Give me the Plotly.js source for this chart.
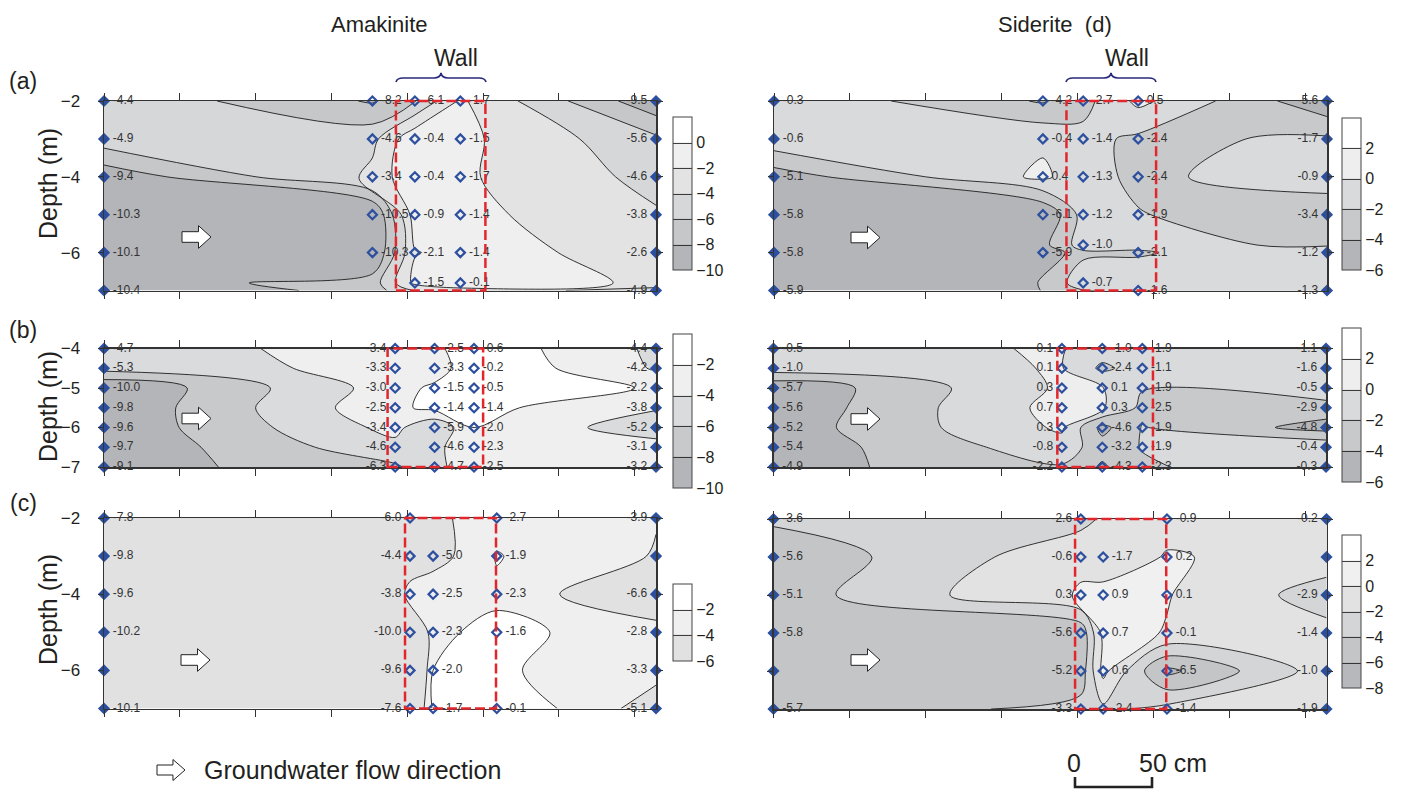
<!DOCTYPE html>
<html><head><meta charset="utf-8">
<script src="https://cdn.plot.ly/plotly-3.0.1.min.js"></script>
<style>html,body{margin:0;padding:0;background:#fff}</style>
</head><body><div id="chart" style="width:1401px;height:789px"></div>
<script>
// ================= DATA (distance along transect in cm, depth in m, value) =================
// Amakinite (a)
const amA_x = [0,0,0,0,0,0, 177,177,177,177,177, 205,205,205,205,205,205, 235,235,235,235,235,235, 364,364,364,364,364,364];
const amA_y = [-2,-3,-4,-5,-6,-7, -2,-3,-4,-5,-6, -2,-3,-4,-5,-6,-6.8, -2,-3,-4,-5,-6,-6.8, -2,-3,-4,-5,-6,-7];
const amA_z = [-4.4,-4.9,-9.4,-10.3,-10.1,-10.4, -8.2,-4.6,-3.4,-10.5,-10.3, -6.1,-0.4,-0.4,-0.9,-2.1,-1.5, -1.7,-1.5,-1.7,-1.4,-1.4,-0.1, -9.5,-5.6,-4.6,-3.8,-2.6,-4.9];
// Siderite (a)
const sdA_x = [0,0,0,0,0,0, 177,177,177,177,177, 203.5,203.5,203.5,203.5,203.5,203.5, 239.7,239.7,239.7,239.7,239.7,239.7, 364,364,364,364,364,364];
const sdA_y = [-2,-3,-4,-5,-6,-7, -2,-3,-4,-5,-6, -2,-3,-4,-5,-5.8,-6.8, -2,-3,-4,-5,-6,-7, -2,-3,-4,-5,-6,-7];
const sdA_z = [-0.3,-0.6,-5.1,-5.8,-5.8,-5.9, -4.2,-0.4,0.4,-6.1,-5.9, -2.7,-1.4,-1.3,-1.2,-1.0,-0.7, 0.5,-2.4,-2.4,-1.9,-2.1,-1.6, -5.6,-1.7,-0.9,-3.4,-1.2,-1.3];
// Amakinite (b)
const amB_x = [0,0,0,0,0,0,0, 192,192,192,192,192,192,192, 218,218,218,218,218,218,218, 244,244,244,244,244,244,244, 364,364,364,364,364,364,364];
const amB_y = [-4,-4.5,-5,-5.5,-6,-6.5,-7, -4,-4.5,-5,-5.5,-6,-6.5,-7, -4,-4.5,-5,-5.5,-6,-6.5,-7, -4,-4.5,-5,-5.5,-6,-6.5,-7, -4,-4.5,-5,-5.5,-6,-6.5,-7];
const amB_z = [-4.7,-5.3,-10.0,-9.8,-9.6,-9.7,-9.1, -3.4,-3.3,-3.0,-2.5,-3.4,-4.6,-6.3, -2.5,-3.3,-1.5,-1.4,-5.9,-4.6,-4.7, -0.6,-0.2,-0.5,-1.4,-2.0,-2.3,-2.5, -4.4,-4.2,-2.2,-3.8,-5.2,-3.1,-3.2];
// Siderite (b)
const sdB_x = [0,0,0,0,0,0,0, 190,190,190,190,190,190,190, 216.6,216.6,216.6,216.6,216.6,216.6,216.6, 243,243,243,243,243,243,243, 364,364,364,364,364,364,364];
const sdB_y = [-4,-4.5,-5,-5.5,-6,-6.5,-7, -4,-4.5,-5,-5.5,-6,-6.5,-7, -4,-4.5,-5,-5.5,-6,-6.5,-7, -4,-4.5,-5,-5.5,-6,-6.5,-7, -4,-4.5,-5,-5.5,-6,-6.5,-7];
const sdB_z = [-0.5,-1.0,-5.7,-5.6,-5.2,-5.4,-4.9, 0.1,0.1,0.3,0.7,0.3,-0.8,-2.2, -1.0,-2.4,0.1,0.3,-4.6,-3.2,-4.3, -1.9,-1.1,-1.9,-2.5,-1.9,-1.9,-2.3, -1.1,-1.6,-0.5,-2.9,-4.8,-0.4,-0.3];
// Amakinite (c)   (null = sampling point without a printed value)
const amC_x = [0,0,0,0,0,0, 201.8,201.8,201.8,201.8,201.8,201.8, 217,217,217,217,217, 259,259,259,259,259, 364,364,364,364,364,364];
const amC_y = [-2,-3,-4,-5,-6,-7, -2,-3,-4,-5,-6,-7, -3,-4,-5,-6,-7, -2,-3,-4,-5,-7, -2,-3,-4,-5,-6,-7];
const amC_z = [-7.8,-9.8,-9.6,-10.2,null,-10.1, -6.0,-4.4,-3.8,-10.0,-9.6,-7.6, -5.0,-2.5,-2.3,-2.0,-1.7, -2.7,-1.9,-2.3,-1.6,-0.1, -3.9,null,-6.6,-2.8,-3.3,-5.1];
// Siderite (c)
const sdC_x = [0,0,0,0,0,0, 202.3,202.3,202.3,202.3,202.3,202.3, 217,217,217,217,217, 259,259,259,259,259,259, 364,364,364,364,364,364];
const sdC_y = [-2,-3,-4,-5,-6,-7, -2,-3,-4,-5,-6,-7, -3,-4,-5,-6,-7, -2,-3,-4,-5,-6,-7, -2,-3,-4,-5,-6,-7];
const sdC_z = [-3.6,-5.6,-5.1,-5.8,null,-5.7, -2.6,-0.6,0.3,-5.6,-5.2,-3.3, -1.7,0.9,0.7,0.6,-2.4, -0.9,0.2,0.1,-0.1,-6.5,-1.4, -0.2,null,-2.9,-1.4,-1.0,-1.9];

// wall extent (cm)
const wallA = [192.5, 251.5];
const wallB = [187, 250];
const wallC = [198.5, 258.5];

// colour-bar tick labels
const ticksAmA = [-10,-8,-6,-4,-2,0];
const ticksSd  = [-6,-4,-2,0,2];
const ticksAmB = [-10,-8,-6,-4,-2];
const ticksAmC = [-6,-4,-2];
const ticksSdC = [-8,-6,-4,-2,0,2];

// ================= STYLE =================
const W = 1401, H = 789;
const FONT = '"Liberation Sans", Arial, sans-serif';
const TXT = '#231f20';
const fx = px => px / W;
const fy = py => 1 - py / H;

const g6 = ['#b4b5b8','#c6c7c9','#d6d7d9','#e3e3e4','#efefef','#ffffff'];
const g5 = ['#b4b5b8','#c8c9cb','#d9dadc','#eeeeee','#ffffff'];
const g5b = ['#b4b5b8','#c8c9cb','#dadbdd','#efefef','#ffffff'];
const g3 = ['#e1e1e2','#efefef','#ffffff'];
const g6c = ['#b7b8bb','#c4c5c7','#d4d5d7','#e2e2e3','#f0f0f0','#ffffff'];

const specs = [
  {x:amA_x,y:amA_y,z:amA_z, box:[104,656,101,290.5], yr:[-7,-2], ydt:2, showY:true, lev:[-8,0], zr:[-10,2], bands:g6, ticks:ticksAmA, cb:[673,117,153], wall:wallA, leftCols:[364]},
  {x:sdA_x,y:sdA_y,z:sdA_z, box:[774,1327,101,290.5], yr:[-7,-2], ydt:2, showY:false, lev:[-4,2], zr:[-6,4], bands:g5, ticks:ticksSd, cb:[1342,118,152], wall:wallA, leftCols:[364]},
  {x:amB_x,y:amB_y,z:amB_z, box:[104,656,348.5,467], yr:[-7,-4], ydt:1, showY:true, lev:[-8,-2], zr:[-10,0], bands:g5b, ticks:ticksAmB, cb:[673,334,154], wall:wallB, leftCols:[192,364]},
  {x:sdB_x,y:sdB_y,z:sdB_z, box:[773.5,1326,348.5,467], yr:[-7,-4], ydt:1, showY:false, lev:[-4,2], zr:[-6,4], bands:g5, ticks:ticksSd, cb:[1342,328,154], wall:wallB, leftCols:[190,364]},
  {x:amC_x,y:amC_y,z:amC_z, box:[104,656,518,708.5], yr:[-7,-2], ydt:2, showY:true, lev:[-4,-2], zr:[-6,0], bands:g3, ticks:ticksAmC, cb:[673,584,77], wall:wallC, leftCols:[201.8,364]},
  {x:sdC_x,y:sdC_y,z:sdC_z, box:[773.5,1326.5,519,709], yr:[-7,-2], ydt:2, showY:false, lev:[-6,2], zr:[-8,4], bands:g6c, ticks:ticksSdC, cb:[1342,535,153], wall:wallC, leftCols:[202.3,364]}
];

const data = [];
const layout = {
  width: W, height: H, margin:{l:0,r:0,t:0,b:0},
  paper_bgcolor:'#fff', plot_bgcolor:'#fff', showlegend:false,
  font:{family:FONT, color:TXT},
  annotations:[], shapes:[]
};

specs.forEach((s, i) => {
  const n = i === 0 ? '' : String(i + 1);
  const xName = 'x' + n, yName = 'y' + n;
  const [l, r, t, b] = s.box;
  layout['xaxis' + n] = {domain:[fx(l), fx(r)], range:[0,364], anchor:yName, showline:true, mirror:'ticks',
    linecolor:'#333', linewidth:1.5, ticks:'outside', ticklen:7, tickwidth:1, tickcolor:'#333',
    tick0:0, dtick:50, showticklabels:false, showgrid:false, zeroline:false, fixedrange:true};
  layout['yaxis' + n] = {domain:[fy(b), fy(t)], range:s.yr, anchor:xName, showline:true, mirror:'ticks',
    linecolor:'#333', linewidth:1.5, ticks:'outside', ticklen:5, tickwidth:1, tickcolor:'#333',
    tick0:0, dtick:s.ydt, showticklabels:s.showY, tickfont:{size:17, family:FONT, color:TXT},
    ticklabelstandoff:14, showgrid:false, zeroline:false, fixedrange:true};

  const cx = [], cy = [], cz = [];
  s.z.forEach((v, k) => { if (v !== null) { cx.push(s.x[k]); cy.push(s.y[k]); cz.push(v); } });
  data.push({
    type:'contour', x:cx, y:cy, z:cz, xaxis:xName, yaxis:yName,
    autocontour:false, contours:{start:s.lev[0], end:s.lev[1], size:2, coloring:'fill', showlines:true},
    line:{color:'#1e1e1e', width:0.9, smoothing:0.9},
    colorscale: s.bands.map((c, k) => [k / (s.bands.length - 1), c]),
    zmin:s.zr[0], zmax:s.zr[1], showscale:true, hoverinfo:'skip',
    colorbar:{x:fx(s.cb[0]), xanchor:'left', xpad:0, y:fy(s.cb[1]), yanchor:'top', ypad:0,
      len:s.cb[2], lenmode:'pixels', thickness:19, outlinewidth:1, outlinecolor:'#444',
      tickmode:'array', tickvals:s.ticks, ticks:'', tickfont:{size:16, family:FONT, color:TXT}}
  });
  const isLeft = s.x.map(v => s.leftCols.includes(v));
  data.push({
    type:'scatter', mode:'markers+text', x:s.x, y:s.y, xaxis:xName, yaxis:yName,
    text: s.z.map((v, k) => v === null ? '' : (isLeft[k] ? v.toFixed(1) + '\u00a0' : '\u00a0' + v.toFixed(1))),
    textposition: isLeft.map(f => f ? 'middle left' : 'middle right'),
    textfont:{size:12, color:'#333', family:FONT},
    marker:{symbol: s.x.map(v => (v === 0 || v === 364) ? 'diamond' : 'diamond-open'),
      size:7, color:'#2c4f9e', line:{width:2.2, color:'#2c4f9e'}},
    cliponaxis:false, hoverinfo:'skip', showlegend:false
  });
  layout.shapes.push({type:'rect', xref:xName, yref:yName + ' domain', x0:s.wall[0], x1:s.wall[1], y0:0, y1:1,
    line:{color:'#e3262b', width:2.5, dash:'10px,4px'}, layer:'above'});
});

// ---- decorations in pixel space ----
function pxPath(pts, close) { return 'M' + pts.map(p => p[0] + ',' + (-p[1])).join('L') + (close ? 'Z' : ''); }
function pxShape(path, fill, lc, lw) {
  return {type:'path', xref:'paper', yref:'paper', xsizemode:'pixel', ysizemode:'pixel', xanchor:0, yanchor:1,
    path:path, fillcolor:fill, line:{color:lc, width:lw}, layer:'above'};
}
function arrow(x0, yc, w, hh, bh) {
  const hx = x0 + w * 0.57;
  return pxPath([[x0,yc-bh],[hx,yc-bh],[hx,yc-hh],[x0+w,yc],[hx,yc+hh],[hx,yc+bh],[x0,yc+bh]], true);
}
[[182,237],[851,237.5],[182,418.5],[851,419],[181,660],[851,660]].forEach(a => {
  layout.shapes.push(pxShape(arrow(a[0], a[1], 29, 11.3, 5.3), '#ffffff', '#222', 1));
});
layout.shapes.push(pxShape(arrow(157, 770, 28, 10.5, 5), '#ffffff', '#222', 1));

function brace(x0, x1, yEnd, yLine, yTip) {
  const m = (x0 + x1) / 2;
  return `M${x0},${-yEnd} Q${x0+1},${-yLine} ${x0+7},${-yLine} L${m-7},${-yLine} Q${m-1},${-yLine} ${m},${-yTip} Q${m+1},${-yLine} ${m+7},${-yLine} L${x1-7},${-yLine} Q${x1-1},${-yLine} ${x1},${-yEnd}`;
}
layout.shapes.push(pxShape(brace(396, 486, 82, 78, 73), 'rgba(0,0,0,0)', '#2a2a7a', 1.6));
layout.shapes.push(pxShape(brace(1066, 1156, 82, 78, 73), 'rgba(0,0,0,0)', '#2a2a7a', 1.6));
// scale bar
layout.shapes.push(pxShape('M1075,-777L1075,-787L1152,-787L1152,-777', 'rgba(0,0,0,0)', '#222', 2.6));

function ann(text, px, py, size, extra) {
  return Object.assign({text:text, xref:'paper', yref:'paper', x:fx(px), y:fy(py), xanchor:'center', yanchor:'middle',
    showarrow:false, font:{size:size, family:FONT, color:TXT}}, extra || {});
}
layout.annotations.push(
  ann('Amakinite', 379, 25, 22),
  ann('Siderite\u00a0 (d)', 1055, 25, 22),
  ann('Wall', 456, 58, 23),
  ann('Wall', 1127, 58, 23),
  ann('(a)', 23, 81, 23),
  ann('(b)', 23, 330, 23),
  ann('(c)', 23, 503, 23),
  ann('Depth (m)', 48, 184, 25, {textangle:-90}),
  ann('Depth (m)', 48, 407, 25, {textangle:-90}),
  ann('Depth (m)', 48, 610, 25, {textangle:-90}),
  ann('Groundwater flow direction', 202, 770, 25, {xanchor:'left'}),
  ann('0', 1074, 763, 25),
  ann('50 cm', 1137, 763, 25, {xanchor:'left'})
);

Plotly.newPlot('chart', data, layout, {staticPlot:true, displayModeBar:false});
</script>
</body></html>
